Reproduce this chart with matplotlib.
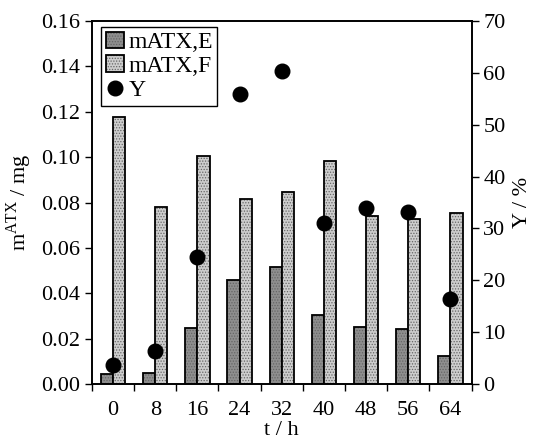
import numpy as np
import matplotlib
matplotlib.use("Agg")
from matplotlib import pyplot as plt

plt.rcParams["font.family"] = ["Liberation Serif", "DejaVu Serif"]
plt.rcParams["mathtext.fontset"] = "custom"
plt.rcParams["mathtext.rm"] = "Liberation Serif"
plt.rcParams["hatch.linewidth"] = 0.6

times = ["0", "8", "16", "24", "32", "40", "48", "56", "64"]
m_atx_e = [0.0043, 0.0050, 0.0245, 0.0457, 0.0517, 0.0304, 0.0250, 0.0241, 0.0125]
m_atx_f = [0.1178, 0.0781, 0.1005, 0.0815, 0.0848, 0.0982, 0.0740, 0.0727, 0.0755]
yield_pct = [3.7, 6.4, 24.4, 55.9, 60.4, 31.0, 33.9, 33.2, 16.4]

fs = 16
fig = plt.figure(figsize=(5.36, 4.42), dpi=100)
ax = fig.add_axes([0.1716, 0.1312, 0.7081, 0.8213])
ax2 = ax.twinx()

x = np.arange(len(times))
w = 0.29
b1 = ax.bar(x - w/2, m_atx_e, w, color="#8e8e8e", edgecolor="black",
            linewidth=1.3, hatch="......", label="mATX,E")
b2 = ax.bar(x + w/2, m_atx_f, w, color="#cdcdcd", edgecolor="black",
            linewidth=1.3, hatch="......", label="mATX,F")
for b in list(b1) + list(b2):
    b._hatch_color = (0.4, 0.4, 0.4, 1.0)

(pts,) = ax2.plot(x, yield_pct, "o", color="black", markersize=10.5,
                  linestyle="none", label="Y")

ax.set_xlim(-0.5, len(times) - 0.5)
ax.set_ylim(0, 0.16)
ax.set_yticks(np.arange(0, 0.161, 0.02))
ax.set_yticklabels(["%.2f" % v for v in np.arange(0, 0.161, 0.02)])
ax2.set_ylim(0, 70)
ax2.set_yticks(range(0, 71, 10))

ax.set_xticks(x)
ax.set_xticklabels(times)
ax.set_xticks(np.arange(-0.5, len(times), 1), minor=True)
ax.tick_params(axis="x", which="major", length=0, labelsize=fs, pad=12)
ax.tick_params(axis="x", which="minor", length=5, width=1, direction="out")
ax.tick_params(axis="y", length=5, width=1, direction="out", labelsize=fs)
ax2.tick_params(axis="y", length=5, width=1, direction="out", labelsize=fs)

for a in (ax, ax2):
    for s in a.spines.values():
        s.set_linewidth(1.2)

ax.set_xlabel("t / h", fontsize=fs, labelpad=1)
ax.set_ylabel(r"m$^{\mathrm{ATX}}$ / mg", fontsize=fs, labelpad=5)
ax2.set_ylabel("Y / %", fontsize=fs, labelpad=5, rotation=90)

leg = ax.legend([b1, b2, pts], ["mATX,E", "mATX,F", "Y"], loc="upper left",
                bbox_to_anchor=(0.024, 0.984), fontsize=17, frameon=True,
                fancybox=False, framealpha=1, edgecolor="black",
                handlelength=0.75, handleheight=0.7, handletextpad=0.2,
                borderpad=0.2, labelspacing=0.1, borderaxespad=0)
leg.get_frame().set_linewidth(1.0)

plt.savefig("out.png", dpi=100)
